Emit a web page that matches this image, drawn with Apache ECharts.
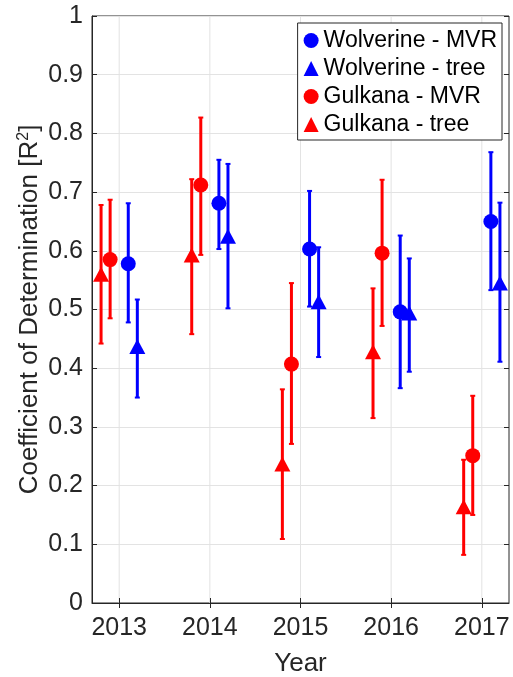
<!DOCTYPE html>
<html>
<head>
<meta charset="utf-8">
<script src="https://cdn.jsdelivr.net/npm/echarts@6/dist/echarts.min.js"></script>
<style>
html,body{margin:0;padding:0;background:#fff;}
#chart{width:513px;height:677px;}
</style>
</head>
<body>
<div id="chart"></div>
<script>
var years = [2013, 2014, 2015, 2016, 2017];

// Wolverine - MVR
var wolvMvr     = [0.578, 0.681, 0.603, 0.496, 0.650];
var wolvMvrLow  = [0.478, 0.603, 0.505, 0.366, 0.533];
var wolvMvrHigh = [0.681, 0.755, 0.702, 0.626, 0.768];
// Wolverine - tree
var wolvTree     = [0.437, 0.625, 0.513, 0.494, 0.545];
var wolvTreeLow  = [0.350, 0.502, 0.419, 0.394, 0.411];
var wolvTreeHigh = [0.517, 0.748, 0.606, 0.587, 0.682];
// Gulkana - MVR
var gulkMvr     = [0.585, 0.712, 0.407, 0.596, 0.251];
var gulkMvrLow  = [0.485, 0.593, 0.271, 0.472, 0.150];
var gulkMvrHigh = [0.687, 0.827, 0.545, 0.721, 0.353];
// Gulkana - tree
var gulkTree     = [0.560, 0.593, 0.237, 0.428, 0.164];
var gulkTreeLow  = [0.442, 0.458, 0.109, 0.315, 0.082];
var gulkTreeHigh = [0.678, 0.722, 0.364, 0.536, 0.244];

var BLUE = '#0000ff', RED = '#ff0000', AX = '#262626', GRID = '#e3e3e3';
var FONT = 'Liberation Sans, Arial, Helvetica, sans-serif';

var chart = echarts.init(document.getElementById('chart'));

// error bar with caps, drawn through the axes
function errBars(id, color, offset, low, high) {
    return {
        type: 'custom',
        name: id,
        silent: true,
        z: 2,
        encode: { x: 0, y: [1, 2] },
        data: years.map(function (y, i) { return [y + offset, low[i], high[i]]; }),
        renderItem: function (params, api) {
            var x = api.value(0);
            var lo = api.coord([x, api.value(1)]);
            var hi = api.coord([x, api.value(2)]);
            var cw = 2.5;
            var st = { stroke: color, lineWidth: 3 };
            var cs = { stroke: color, lineWidth: 2 };
            return {
                type: 'group',
                children: [
                    { type: 'line', shape: { x1: lo[0], y1: lo[1], x2: hi[0], y2: hi[1] }, style: st },
                    { type: 'line', shape: { x1: lo[0] - cw, y1: lo[1], x2: lo[0] + cw, y2: lo[1] }, style: cs },
                    { type: 'line', shape: { x1: hi[0] - cw, y1: hi[1], x2: hi[0] + cw, y2: hi[1] }, style: cs }
                ]
            };
        }
    };
}

function markers(name, color, offset, vals, symbol) {
    return {
        type: 'scatter',
        name: name,
        symbol: symbol,
        symbolSize: symbol == 'circle' ? 15 : [16, 15],
        itemStyle: { color: color, opacity: 1 },
        z: 3,
        data: years.map(function (y, i) { return [y + offset, vals[i]]; })
    };
}

// vertical grid lines at the year ticks
function yearGrid() {
    return {
        type: 'custom',
        name: 'grid',
        silent: true,
        z: 0,
        encode: { x: 0 },
        data: years.map(function (y) { return [y]; }),
        renderItem: function (params, api) {
            var a = api.coord([api.value(0), 0]);
            var b = api.coord([api.value(0), 1]);
            return { type: 'line', shape: { x1: a[0], y1: a[1], x2: b[0], y2: b[1] }, style: { stroke: GRID, lineWidth: 1 } };
        }
    };
}

var option = {
    animation: false,
    backgroundColor: '#fff',
    textStyle: { fontFamily: FONT },
    grid: { left: 92, right: 4, top: 16, bottom: 74, show: true, borderColor: AX, borderWidth: 1,
        containLabel: false, outerBoundsMode: 'none' },
    legend: {
        orient: 'vertical',
        right: 11,
        top: 23,
        data: ['Wolverine - MVR', 'Wolverine - tree', 'Gulkana - MVR', 'Gulkana - tree'],
        itemWidth: 15,
        itemHeight: 15,
        itemGap: 5,
        padding: [6, 5, 4, 6],
        backgroundColor: '#fff',
        borderColor: AX,
        borderWidth: 1,
        borderRadius: 0,
        textStyle: { fontSize: 23, color: '#000', fontFamily: FONT }
    },
    xAxis: [{
        type: 'value',
        position: 'bottom',
        min: 2012.7,
        max: 2017.3,
        name: 'Year',
        nameLocation: 'middle',
        nameGap: 48,
        nameMoveOverlap: false,
        nameTextStyle: { fontSize: 26, color: AX, fontFamily: FONT },
        axisLine: { show: true, lineStyle: { color: AX, width: 1 } },
        axisTick: { show: true, inside: true, length: 5, customValues: years, lineStyle: { color: AX } },
        axisLabel: { customValues: years, fontSize: 25, color: AX, margin: 13, fontFamily: FONT,
            formatter: function (v) { return String(v); } },
        splitLine: { show: false }
    }, {
        type: 'value',
        position: 'top',
        min: 2012.7,
        max: 2017.3,
        axisLine: { show: false },
        axisTick: { show: true, inside: true, length: 5, customValues: years, lineStyle: { color: AX } },
        axisLabel: { show: false },
        splitLine: { show: false }
    }],
    yAxis: [{
        type: 'value',
        min: 0,
        max: 1,
        interval: 0.1,
        name: 'Coefficient of Determination [R{sup|2}]',
        nameLocation: 'middle',
        nameGap: 48,
        nameMoveOverlap: false,
        nameTextStyle: {
            fontSize: 26, color: AX, fontFamily: FONT,
            rich: { sup: { fontSize: 16, color: AX, fontFamily: FONT, verticalAlign: 'top', padding: [0, 0, 12, 0] } }
        },
        axisLine: { show: true, lineStyle: { color: AX, width: 1 } },
        axisTick: { show: true, inside: true, length: 5, lineStyle: { color: AX } },
        axisLabel: { fontSize: 25, color: AX, margin: 9, fontFamily: FONT },
        splitLine: { show: true, lineStyle: { color: GRID, width: 1 } }
    }, {
        type: 'value',
        position: 'right',
        min: 0,
        max: 1,
        interval: 0.1,
        axisLine: { show: false },
        axisTick: { show: true, inside: true, length: 5, lineStyle: { color: AX } },
        axisLabel: { show: false },
        splitLine: { show: false }
    }],
    series: [
        yearGrid(),
        errBars('eWM', BLUE, 0.1, wolvMvrLow, wolvMvrHigh),
        errBars('eWT', BLUE, 0.2, wolvTreeLow, wolvTreeHigh),
        errBars('eGM', RED, -0.1, gulkMvrLow, gulkMvrHigh),
        errBars('eGT', RED, -0.2, gulkTreeLow, gulkTreeHigh),
        markers('Wolverine - MVR', BLUE, 0.1, wolvMvr, 'circle'),
        markers('Wolverine - tree', BLUE, 0.2, wolvTree, 'triangle'),
        markers('Gulkana - MVR', RED, -0.1, gulkMvr, 'circle'),
        markers('Gulkana - tree', RED, -0.2, gulkTree, 'triangle')
    ]
};

chart.setOption(option);
</script>
</body>
</html>
